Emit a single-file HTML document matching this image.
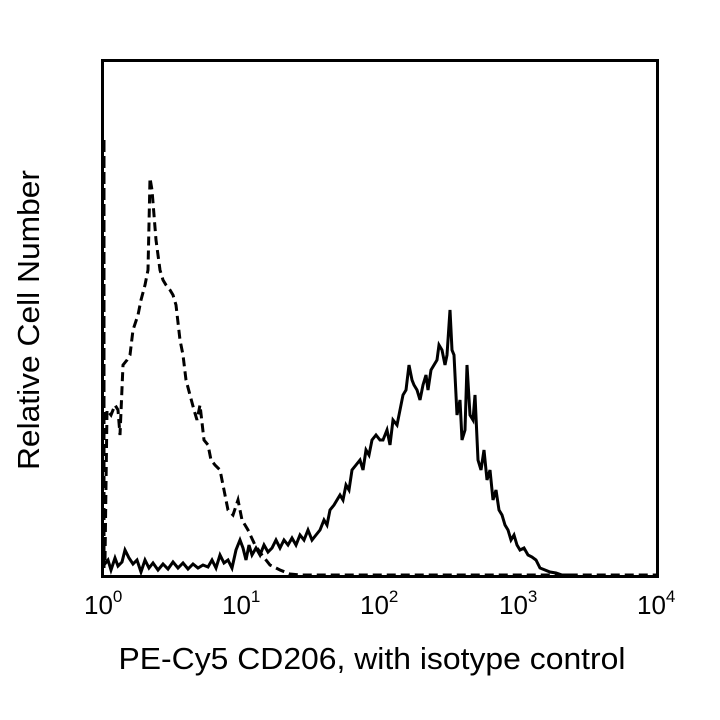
<!DOCTYPE html>
<html><head><meta charset="utf-8"><style>
body{margin:0;background:#fff;}
svg{display:block;font-family:"Liberation Sans",Arial,sans-serif;}
</style></head><body>
<svg width="720" height="720" viewBox="0 0 720 720">
<rect x="0" y="0" width="720" height="720" fill="#fff"/>
<path d="M104,140 L104,570" stroke="#000" stroke-width="3" stroke-dasharray="12,4" fill="none"/>
<polyline fill="none" stroke="#000" stroke-width="3" stroke-dasharray="9,5" points="105,560 107,410 111,415 115,405 118,410 120,435 123,365 127,360 130,355 133,330 138,315 141,300 145,285 148,270 150,178 152,190 154,215 156,240 158,255 160,270 163,280 166,285 170,290 173,295 176,305 180,340 183,355 186,380 190,395 194,410 197,420 200,405 204,440 208,445 211,460 215,465 220,470 224,490 228,510 233,515 238,500 242,520 248,530 255,545 262,555 270,565 280,570 290,574 300,575 657,575"/>
<polyline fill="none" stroke="#000" stroke-width="3" points="104,565 108,560 111,570 115,558 118,566 122,562 125,550 129,558 133,564 137,560 141,572 145,560 149,568 153,563 158,570 163,564 168,569 173,562 178,568 183,563 188,569 193,564 198,568 203,565 208,567 212,560 216,568 220,555 224,563 228,560 232,568 236,550 240,540 243,548 246,560 249,545 252,555 256,548 260,555 264,545 268,552 272,548 276,540 280,548 284,540 288,545 292,538 296,545 300,535 304,540 308,530 312,540 316,535 320,530 324,520 327,525 330,510 334,505 337,500 340,495 343,500 346,485 349,490 352,470 356,465 360,460 363,470 366,450 369,455 372,440 376,435 380,440 383,440 387,430 390,445 393,420 397,425 400,410 403,395 406,390 409,365 412,380 414,385 417,390 420,400 423,385 426,375 428,390 431,370 434,365 437,360 439,345 442,350 445,365 447,355 450,310 452,350 454,355 457,415 460,400 462,440 465,430 467,365 470,415 473,420 475,395 478,460 481,470 484,450 487,480 490,470 493,500 496,490 499,510 502,515 505,525 508,530 511,540 514,535 517,545 520,550 524,548 528,555 532,557 536,560 540,568 545,570 550,572 556,573 562,575 570,575"/>
<rect x="102.5" y="60.5" width="555" height="516" fill="none" stroke="#000" stroke-width="3"/>
<g font-size="26" fill="#000">
<text x="84" y="614">10<tspan font-size="17" dy="-12">0</tspan></text>
<text x="222" y="614">10<tspan font-size="17" dy="-12">1</tspan></text>
<text x="360" y="614">10<tspan font-size="17" dy="-12">2</tspan></text>
<text x="499" y="614">10<tspan font-size="17" dy="-12">3</tspan></text>
<text x="637" y="614">10<tspan font-size="17" dy="-12">4</tspan></text>
</g>
<text x="372" y="669" font-size="31" text-anchor="middle" textLength="507" lengthAdjust="spacingAndGlyphs">PE-Cy5 CD206, with isotype control</text>
<text transform="translate(39,320) rotate(-90)" font-size="31" text-anchor="middle" textLength="300" lengthAdjust="spacingAndGlyphs">Relative Cell Number</text>
</svg>
</body></html>
